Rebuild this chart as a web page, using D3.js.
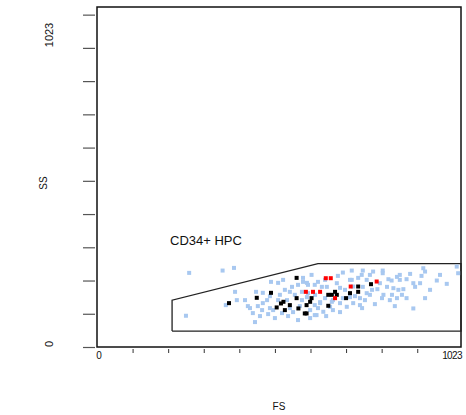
<!DOCTYPE html>
<html><head><meta charset="utf-8">
<script src="https://cdn.jsdelivr.net/npm/d3@7"></script>
<style>body{margin:0;background:#fff}svg{display:block}text{font-family:"Liberation Sans",Arial,sans-serif;fill:#111}</style>
</head><body><svg id="c" width="466" height="415"></svg>
<script>
const xDomain = [0, 1023];
const yDomain = [0, 1023];
const yTicks = [0,100,200,300,400,500,600,700,800,900,1000];
const xTicks = [100,200,300,400,500,600,700,800,900];
const axisLabels = ["0", "1023"];
const xTitle = "FS";
const yTitle = "SS";
const gateName = "CD34+ HPC";
const gate = [[211,48],[211,141],[621,251],[1023,251],[1023,48]];

const bluePts = [
[259,223],[353,230],[385,238],[250,94],[388,166],[393,141],[362,126],
[603,217],[691,224],[716,230],[747,230],[744,217],[776,227],[803,230],[803,222],[851,217],[880,220],
[917,237],[922,227],[912,214],[819,204],[828,200],[851,202],[870,204],[889,192],[908,192],[955,200],
[983,190],[1015,222],[1011,242],[833,177],[847,172],[861,174],[870,147],[823,141],[805,157],[788,174],
[758,162],[753,141],[739,147],[889,116],[922,147],[617,96],[599,111],[636,106],[683,132],[660,136],
[702,121],[720,182],[758,202],[767,217],[795,192],
[430,117],[438,102],[466,132],[464,111],[478,141],[486,117],[481,99],[495,111],[509,193],[514,157],
[520,102],[534,141],[542,166],[548,181],[551,105],[565,187],[576,166],[576,141],[579,196],[590,150],
[489,196],[466,163],[452,123],[444,75],
[579,208],[590,193],[612,187],[621,196],[632,181],[641,147],[627,132],[612,126],[621,117],[674,192],
[683,178],[691,147],[720,132],[716,202],[734,208],[747,181],[612,96],[593,162],[655,121],[646,181],
[663,141],[711,150],[739,126],[801,147],[815,181],[843,211],[894,181],[857,157],[843,147],[829,157],
[773,172],[767,157],
[416,141],[447,166],[458,93],[500,87],[537,93],[565,81],[599,87],[644,93],[663,111],[683,105],
[528,172],[556,157],[570,123],[542,117],[509,141],[486,153],[523,202],[593,187],[613,157],[627,135],
[697,172],[725,153],[745,117],[781,129],[837,123],[936,172],[964,217],[711,202],[677,214],[641,202],
[424,123]
];
const blackPts = [
[371,132],[449,148],[489,163],[561,208],[603,147],[599,136],[589,126],[584,101],[650,157],[660,157],
[669,166],[674,157],[700,147],[711,162],[734,182],[734,166],[770,189],[650,124],
[505,119],[517,131],[528,111],[524,136],[542,126],[561,147],[566,116],[589,101]
];
const redPts = [[587,166],[607,166],[627,166],[643,207],[657,207],[713,182],[786,197],[669,147]];

const svg = d3.select("#c");
const x = d3.scaleLinear(xDomain, [97, 461]);
const y = d3.scaleLinear(yDomain, [347, 7]);

const ya = svg.append("g").attr("transform","translate(95,0)")
  .call(d3.axisLeft(y).tickValues(yTicks).tickSize(12).tickFormat(""));
ya.select(".domain").remove();
ya.selectAll("line").attr("stroke","#555").attr("stroke-width",1.2);

const xa = svg.append("g").attr("transform","translate(0,349)")
  .call(d3.axisBottom(x).tickValues(xTicks).tickSize(4).tickFormat(""));
xa.select(".domain").remove();
xa.selectAll("line").attr("stroke","#333").attr("stroke-width",1);

svg.append("rect").attr("x",x(0)).attr("y",y(1023)).attr("width",x(1023)-x(0)).attr("height",y(0)-y(1023))
  .attr("fill","none").attr("stroke","#111").attr("stroke-width",1.5);

svg.append("text").attr("transform",`translate(53,344) rotate(-90)`).attr("text-anchor","middle").attr("font-size",11).text(axisLabels[0]);
svg.append("text").attr("transform",`translate(53,35) rotate(-90)`).attr("text-anchor","middle").attr("font-size",11).text(axisLabels[1]);
svg.append("text").attr("x",x(0)+2).attr("y",359).attr("text-anchor","middle").attr("font-size",10).text(axisLabels[0]);
svg.append("text").attr("x",x(1023)+1).attr("y",359).attr("text-anchor","end").attr("font-size",10).attr("letter-spacing",-0.6).text(axisLabels[1]);
svg.append("text").attr("x",279).attr("y",410).attr("text-anchor","middle").attr("font-size",10).text(xTitle);
svg.append("text").attr("transform","translate(47,183) rotate(-90)").attr("text-anchor","middle").attr("font-size",10).text(yTitle);

svg.append("path").attr("d", d3.line().x(d=>x(d[0])).y(d=>y(d[1]))(gate.concat([gate[0]])))
  .attr("fill","none").attr("stroke","#222").attr("stroke-width",1.3);
svg.append("text").attr("x",170).attr("y",245).attr("font-size",13).text(gateName);

const s = 4;
function pts(data, color){
  svg.append("g").selectAll("rect").data(data).join("rect")
    .attr("x",d=>x(d[0])-s/2).attr("y",d=>y(d[1])-s/2).attr("width",s).attr("height",s).attr("fill",color);
}
pts(bluePts,"#a8c8f0");
pts(blackPts,"#000");
pts(redPts,"#f00");
</script></body></html>
